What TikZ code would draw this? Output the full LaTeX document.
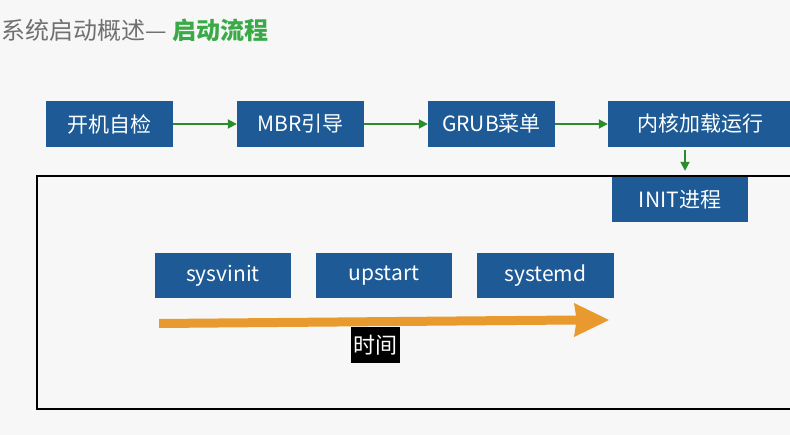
\documentclass[tikz,border=0pt]{standalone}
\usepackage{fontspec}
\setmainfont{Noto Sans CJK SC}
\usetikzlibrary{arrows.meta}
\definecolor{bg}{HTML}{F7F7F7}
\definecolor{boxblue}{HTML}{1D5A96}
\definecolor{arrgreen}{HTML}{2A8C2A}
\definecolor{titlegreen}{HTML}{3AAA48}
\definecolor{titlegray}{HTML}{707070}
\definecolor{timeorange}{HTML}{E89A2E}
\tikzset{
  bluebox/.style={fill=boxblue, text=white, minimum width=127pt, minimum height=46pt, inner sep=0pt, font=\fontsize{21}{23}\selectfont},
  greenarrow/.style={draw=arrgreen, line width=1.8pt, -{Triangle[length=9pt,width=9pt]}},
}
\begin{document}
\begin{tikzpicture}[x=1pt,y=-1pt]
\useasboundingbox (0,0) rectangle (790,435);
\clip (0,0) rectangle (790,435);
\fill[bg] (0,0) rectangle (790,435);
% title
\node[anchor=west, inner sep=0pt, font=\fontsize{24}{26}\selectfont] (title) at (1,30)
  {\textcolor{titlegray}{系统启动概述— }\textcolor{titlegreen}{\bfseries 启动流程}};
% frame
\draw[line width=2pt, black] (37,176) rectangle (805,409);
% boxes
\node[bluebox] (b1) at (109.5,124) {开机自检};
\node[bluebox] (b2) at (300.5,124) {MBR引导};
\node[bluebox] (b3) at (491.5,124) {GRUB菜单};
\node[bluebox, minimum width=184pt] (b4) at (700,124) {内核加载运行};
\node[bluebox, minimum width=136pt, minimum height=45pt] (init) at (680,199.5) {INIT进程};
\node[bluebox, minimum width=136pt, minimum height=45pt] (s1) at (223,275.5) {sysvinit};
\node[bluebox, minimum width=136pt, minimum height=45pt] (s2) at (384,275.5) {upstart};
\node[bluebox, minimum width=137pt, minimum height=45pt] (s3) at (545.5,275.5) {systemd};
% arrows
\draw[greenarrow] (b1) -- (b2);
\draw[greenarrow] (b2) -- (b3);
\draw[greenarrow] (b3) -- (b4);
\draw[greenarrow, shorten <=3pt, shorten >=6pt] (b4.south -| init.north) ++(5,0) coordinate (d1) (d1) -- (d1 |- init.north);
% time arrow
\coordinate (ts) at (159,323.5);
\coordinate (te) at (576,320);
\coordinate (tip) at (609,320);
\fill[timeorange] (159,319) -- (576,315.5) -- (574,303) -- (tip) -- (574,337) -- (576,324.5) -- (159,328) -- cycle;
\node[fill=black, text=white, inner sep=0pt, minimum width=49pt, minimum height=36pt, font=\fontsize{22}{24}\selectfont] (time) at (375.5,345) {时间};
\end{tikzpicture}
\end{document}
